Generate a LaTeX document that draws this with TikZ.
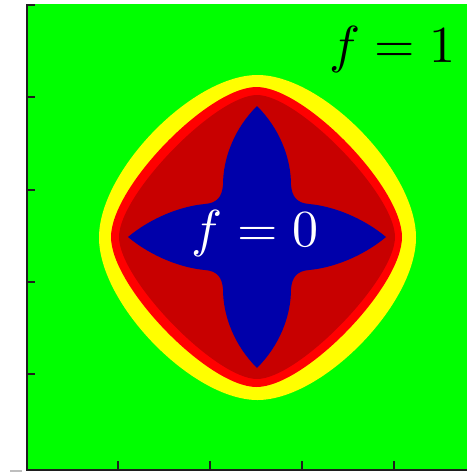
\documentclass[tikz,border=0pt]{standalone}

\tikzset{every picture/.style={line width=0.75pt}}
\tikzset{
  axisline/.style={line width=1.5, color={rgb, 255:red, 30; green, 30; blue, 30 }},
  flabel/.style={inner sep=0.75pt},
}
\newcommand{\biglabel}[1]{\scalebox{3.9}{#1}}

\begin{document}
\begin{tikzpicture}[x=0.75pt,y=0.75pt,yscale=-1,xscale=1]
%set diagram left start at 0, and has height of 472
\useasboundingbox (0,0) rectangle (467,472);

%Shape: Rectangle [id:plotarea] 
\fill [color={rgb, 255:red, 0; green, 255; blue, 0 }  ]  (28,4) -- (467,4) -- (467,469) -- (28,469) -- cycle ;
%Shape: Rounded Diamond [id:yellowband] 
\fill [color={rgb, 255:red, 255; green, 255; blue, 0 }  ]  (416,237.5) .. controls (416,170.9) and (322.5,75) .. (257.5,75) .. controls (192.5,75) and (99,170.9) .. (99,237.5) .. controls (99,304.1) and (192.5,400) .. (257.5,400) .. controls (322.5,400) and (416,304.1) .. (416,237.5) -- cycle ;
%Shape: Rounded Diamond [id:redband] 
\fill [color={rgb, 255:red, 255; green, 0; blue, 0 }  ]  (402,237) .. controls (402,187.3) and (304.7,87) .. (256.5,87) .. controls (208.3,87) and (111,187.3) .. (111,237) .. controls (111,286.7) and (208.3,387) .. (256.5,387) .. controls (304.7,387) and (402,286.7) .. (402,237) -- cycle ;
%Shape: Rounded Diamond [id:darkredband] 
\fill [color={rgb, 255:red, 200; green, 0; blue, 0 }  ]  (395,237) .. controls (395,194.5) and (298.3,95) .. (257,95) .. controls (215.7,95) and (119,194.5) .. (119,237) .. controls (119,279.5) and (215.7,379) .. (257,379) .. controls (298.3,379) and (395,279.5) .. (395,237) -- cycle ;
%Shape: Four Point Star [id:bluecore] 
\fill [color={rgb, 255:red, 0; green, 0; blue, 170 }  ]  (257,106) .. controls (279,128) and (291,157) .. (291,185) .. controls (292,197) and (297,203) .. (309,204) .. controls (332,206) and (362,217) .. (386,237) .. controls (362,257) and (332,268) .. (309,270) .. controls (297,271) and (292,277) .. (291,289) .. controls (291,317) and (279,346) .. (257,368) .. controls (235,346) and (223,317) .. (223,289) .. controls (222,277) and (217,271) .. (205,270) .. controls (182,268) and (152,257) .. (128,237) .. controls (152,217) and (182,206) .. (205,204) .. controls (217,203) and (222,197) .. (223,185) .. controls (223,157) and (235,128) .. (257,106) -- cycle ;

%Straight Lines [id:leftaxis] 
\draw [axisline]  (27,4) -- (27,470) ;
%Straight Lines [id:bottomaxis] 
\draw [axisline]  (26.25,469.5) -- (467,469.5) ;
%Straight Lines [id:leftticks] 
\foreach \ty in {5,97.3,189.6,281.9,374.2} {
  \draw [axisline]  (27,\ty) -- (35,\ty) ;
}
%Straight Lines [id:bottomticks] 
\foreach \tx in {117.5,209.8,302,394.3} {
  \draw [axisline]  (\tx,469.5) -- (\tx,461) ;
}
%Straight Lines [id:cutlabel] 
\draw [color={rgb, 255:red, 190; green, 190; blue, 190 }  ,line width=1.5]  (10,471) -- (22,471) ;

% Text Node
\draw (392.5,49) node [flabel] (fone) {\biglabel{$f = 1$}};
% Text Node
\draw (255,233) node [flabel, color={rgb, 255:red, 255; green, 255; blue, 255 }] (fzero) {\biglabel{$f = 0$}};

\end{tikzpicture}
\end{document}
